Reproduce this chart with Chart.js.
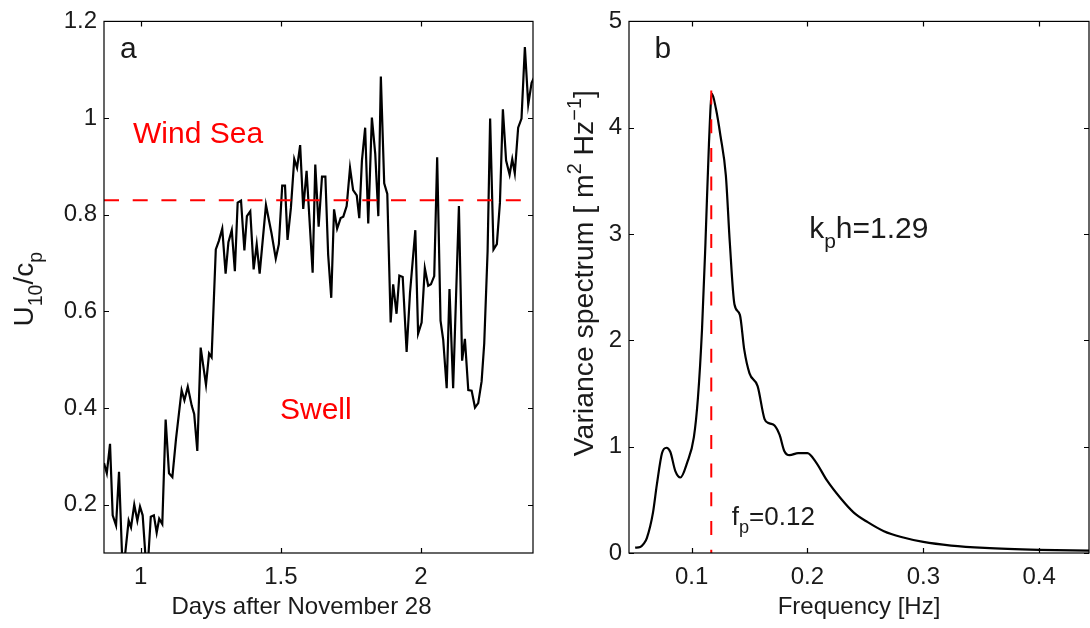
<!DOCTYPE html>
<html>
<head>
<meta charset="utf-8">
<script src="https://cdn.jsdelivr.net/npm/chart.js@4.4.1/dist/chart.umd.min.js"></script>
<style>
  html, body { margin: 0; padding: 0; background: #fff; }
  body { width: 1090px; height: 628px; position: relative; overflow: hidden; }
  .panel { position: absolute; top: 0; height: 628px; }
  #panel-a { left: 0; width: 560px; }
  #panel-b { left: 560px; width: 530px; }
</style>
</head>
<body>
<div class="panel" id="panel-a"><canvas id="chart-a"></canvas></div>
<div class="panel" id="panel-b"><canvas id="chart-b"></canvas></div>
<script>
// panel a: U10/cp time series
const days = [0.869, 0.879, 0.8905, 0.900, 0.912, 0.9226, 0.9344, 0.944, 0.957, 0.9654, 0.977, 0.988, 0.9975, 1.007, 1.018, 1.027, 1.036, 1.047, 1.057, 1.066, 1.077, 1.089, 1.101, 1.113, 1.126, 1.146, 1.156, 1.168, 1.182, 1.191, 1.202, 1.214, 1.233, 1.244, 1.253, 1.268, 1.279, 1.291, 1.303, 1.313, 1.325, 1.336, 1.346, 1.358, 1.370, 1.379, 1.391, 1.403, 1.414, 1.4245, 1.447, 1.467, 1.482, 1.493, 1.505, 1.515, 1.524, 1.536, 1.548, 1.558, 1.569, 1.580, 1.592, 1.6136, 1.623, 1.635, 1.647, 1.659, 1.669, 1.680, 1.690, 1.701, 1.7135, 1.723, 1.735, 1.747, 1.758, 1.771, 1.780, 1.7895, 1.801, 1.812, 1.825, 1.837, 1.848, 1.857, 1.869, 1.880, 1.892, 1.901, 1.913, 1.923, 1.935, 1.949, 1.961, 1.980, 1.990, 2.0025, 2.014, 2.026, 2.0357, 2.0475, 2.058, 2.070, 2.0796, 2.092, 2.102, 2.115, 2.1356, 2.147, 2.157, 2.169, 2.181, 2.193, 2.2045, 2.2166, 2.226, 2.238, 2.247, 2.259, 2.271, 2.282, 2.2925, 2.304, 2.3165, 2.326, 2.335, 2.347, 2.359, 2.371, 2.383, 2.395, 2.404];
const u10cp = [0.286, 0.265, 0.326, 0.178, 0.157, 0.268, 0.08, 0.095, 0.167, 0.153, 0.200, 0.167, 0.196, 0.178, 0.085, 0.09, 0.175, 0.178, 0.142, 0.171, 0.160, 0.376, 0.265, 0.257, 0.336, 0.437, 0.416, 0.444, 0.405, 0.387, 0.311, 0.525, 0.448, 0.513, 0.505, 0.728, 0.746, 0.771, 0.678, 0.743, 0.768, 0.683, 0.825, 0.829, 0.726, 0.797, 0.807, 0.687, 0.739, 0.678, 0.820, 0.761, 0.709, 0.739, 0.860, 0.860, 0.748, 0.814, 0.915, 0.897, 0.944, 0.812, 0.891, 0.680, 0.904, 0.775, 0.879, 0.879, 0.717, 0.628, 0.811, 0.771, 0.793, 0.796, 0.818, 0.897, 0.851, 0.840, 0.793, 0.912, 0.980, 0.782, 1.001, 0.926, 0.797, 1.086, 0.865, 0.843, 0.577, 0.656, 0.595, 0.674, 0.671, 0.516, 0.638, 0.768, 0.554, 0.577, 0.689, 0.653, 0.656, 0.673, 0.919, 0.581, 0.541, 0.441, 0.646, 0.441, 0.818, 0.498, 0.543, 0.437, 0.436, 0.401, 0.410, 0.455, 0.534, 0.725, 0.999, 0.728, 0.739, 0.825, 1.018, 0.912, 0.883, 0.915, 0.886, 0.980, 0.999, 1.147, 1.028, 1.073, 1.084];
const windSeaLimit = 0.83;
const dayRange = [0.869, 2.40];
const u10Range = [0.1, 1.2];
const dayTicks = [1, 1.5, 2];
const u10Ticks = [0.2, 0.4, 0.6, 0.8, 1, 1.2];

// panel b: variance spectrum
const freq = [0.0513, 0.0557, 0.0586, 0.0614, 0.0667, 0.070, 0.0745, 0.0783, 0.0817, 0.086, 0.0904, 0.0962, 0.102, 0.1055, 0.109, 0.112, 0.115, 0.1175, 0.121, 0.125, 0.1296, 0.133, 0.137, 0.1417, 0.1455, 0.150, 0.157, 0.163, 0.167, 0.1716, 0.176, 0.180, 0.1846, 0.192, 0.200, 0.207, 0.217, 0.229, 0.240, 0.252, 0.266, 0.281, 0.300, 0.324, 0.353, 0.400, 0.443];
const spectrum = [0.05, 0.056, 0.085, 0.14, 0.38, 0.64, 0.94, 0.99, 0.95, 0.77, 0.71, 0.85, 1.09, 1.46, 2.1, 2.92, 3.85, 4.32, 4.18, 3.92, 3.55, 2.92, 2.34, 2.24, 1.91, 1.69, 1.57, 1.26, 1.22, 1.20, 1.11, 0.96, 0.92, 0.94, 0.94, 0.86, 0.68, 0.51, 0.38, 0.29, 0.205, 0.15, 0.104, 0.07, 0.048, 0.03, 0.022];
const peakFreq = 0.117;
const peakTop = 4.35;
const freqRange = [0.046, 0.443];
const specRange = [0, 5];
const freqTicks = [0.1, 0.2, 0.3, 0.4];
const specTicks = [0, 1, 2, 3, 4, 5];

const FONT = "'Liberation Sans', Arial, Helvetica, sans-serif";
const TEXT_COLOR = "#1a1a1a";
const RED = "#ff0000";
Chart.defaults.font.family = FONT;
Chart.defaults.color = TEXT_COLOR;

// text pieces: {t, sub} / {t, sup}
const annotA = [
  { x: 0.926, y: 1.124, size: 30, color: TEXT_COLOR, parts: [{ t: "a" }] },
  { x: 0.9725, y: 0.948, size: 30, color: RED, parts: [{ t: "Wind Sea" }] },
  { x: 1.497, y: 0.378, size: 30, color: RED, parts: [{ t: "Swell" }] },
];
const annotB = [
  { x: 0.0679, y: 4.654, size: 30, color: TEXT_COLOR, parts: [{ t: "b" }] },
  { x: 0.2015, y: 2.963, size: 30, color: TEXT_COLOR, parts: [{ t: "k" }, { t: "p", sub: true }, { t: "h=1.29" }] },
  { x: 0.1347, y: 0.262, size: 26, color: TEXT_COLOR, parts: [{ t: "f" }, { t: "p", sub: true }, { t: "=0.12" }] },
];
const yTitleA = [{ t: "U" }, { t: "10", sub: true }, { t: "/c" }, { t: "p", sub: true }];
const yTitleB = [{ t: "Variance spectrum [ m" }, { t: "2", sup: true }, { t: " Hz" }, { t: "\u22121", sup: true }, { t: "]" }];

function partFont(part, size) {
  const s = part.sub || part.sup ? size * 0.7 : size;
  return `${s}px ${FONT}`;
}

function richWidth(ctx, parts, size) {
  let w = 0;
  parts.forEach((p) => {
    ctx.font = partFont(p, size);
    w += ctx.measureText(p.t).width;
  });
  return w;
}

function drawRich(ctx, parts, x, y, size) {
  let cx = x;
  ctx.textBaseline = "alphabetic";
  ctx.textAlign = "left";
  parts.forEach((p) => {
    ctx.font = partFont(p, size);
    let dy = 0;
    if (p.sub) dy = size * 0.32;
    if (p.sup) dy = -size * 0.42;
    ctx.fillText(p.t, cx, y + dy);
    cx += ctx.measureText(p.t).width;
  });
}

const matlabBox = {
  id: "matlabBox",
  afterDatasetsDraw(chart, args, opts) {
    const { ctx, chartArea: a, scales } = chart;
    const tickLen = 5;
    ctx.save();
    ctx.strokeStyle = "#000";
    ctx.lineWidth = 1.2;
    ctx.strokeRect(a.left, a.top, a.right - a.left, a.bottom - a.top);
    ctx.beginPath();
    scales.x.ticks.forEach((t) => {
      const px = Math.round(scales.x.getPixelForValue(t.value)) + 0.5;
      ctx.moveTo(px, a.bottom);
      ctx.lineTo(px, a.bottom - tickLen);
      ctx.moveTo(px, a.top);
      ctx.lineTo(px, a.top + tickLen);
    });
    scales.y.ticks.forEach((t) => {
      const py = Math.round(scales.y.getPixelForValue(t.value)) + 0.5;
      ctx.moveTo(a.left, py);
      ctx.lineTo(a.left + tickLen, py);
      ctx.moveTo(a.right, py);
      ctx.lineTo(a.right - tickLen, py);
    });
    ctx.stroke();

    opts.annotations.forEach((an) => {
      ctx.fillStyle = an.color;
      drawRich(ctx, an.parts, scales.x.getPixelForValue(an.x), scales.y.getPixelForValue(an.y), an.size);
    });

    // x title, centred under the axes (with a small offset like the original)
    ctx.fillStyle = TEXT_COLOR;
    ctx.font = `24px ${FONT}`;
    ctx.textAlign = "center";
    ctx.textBaseline = "middle";
    ctx.fillText(opts.xTitle, (a.left + a.right) / 2 + opts.xTitleShift, 607);

    // rotated y title with sub/superscripts
    const size = opts.yTitleSize;
    const w = richWidth(ctx, opts.yTitle, size);
    ctx.translate(opts.yTitleX, (a.top + a.bottom) / 2 + opts.yTitleShift);
    ctx.rotate(-Math.PI / 2);
    drawRich(ctx, opts.yTitle, -w / 2, 0, size);
    ctx.restore();
  },
};

const fmt = (v) => String(Number(v.toFixed(3)));

function axis(range, ticks, opts) {
  return {
    type: "linear",
    min: range[0],
    max: range[1],
    grid: { display: false, drawTicks: false },
    border: { display: false },
    afterBuildTicks: (scale) => {
      scale.ticks = ticks.map((v) => ({ value: v }));
    },
    ticks: {
      callback: fmt,
      font: { size: 24 },
      color: TEXT_COLOR,
      padding: opts.padding,
    },
    afterFit: opts.afterFit,
  };
}

function makeChart(id, cfg) {
  return new Chart(document.getElementById(id), {
    type: "line",
    data: { datasets: cfg.datasets },
    options: {
      responsive: true,
      maintainAspectRatio: false,
      animation: false,
      devicePixelRatio: 1,
      layout: { padding: { top: 18, right: cfg.padRight, bottom: 0, left: 0 } },
      plugins: {
        legend: { display: false },
        tooltip: { enabled: false },
        matlabBox: cfg.box,
      },
      elements: { point: { radius: 0 } },
      scales: {
        x: axis(cfg.xRange, cfg.xTicks, {
          padding: 10,
          afterFit: (s) => { s.height = 75; },
        }),
        y: axis(cfg.yRange, cfg.yTicks, {
          padding: 7,
          afterFit: (s) => { s.width = cfg.yWidth; },
        }),
      },
    },
    plugins: [matlabBox],
  });
}

makeChart("chart-a", {
  datasets: [
    {
      data: dayRange.map((d) => ({ x: d, y: windSeaLimit })),
      borderColor: RED,
      borderWidth: 2,
      borderDash: [15, 13.7],
      order: 1,
      clip: 0,
    },
    {
      data: days.map((d, i) => ({ x: d, y: u10cp[i] })),
      borderColor: "#000",
      borderWidth: 2.2,
      tension: 0,
      order: 2,
      clip: 0,
    },
  ],
  xRange: dayRange,
  yRange: u10Range,
  xTicks: dayTicks,
  yTicks: u10Ticks,
  yWidth: 104,
  padRight: 27,
  box: {
    annotations: annotA,
    xTitle: "Days after November 28",
    xTitleShift: -17,
    yTitle: yTitleA,
    yTitleSize: 28,
    yTitleX: 33,
    yTitleShift: 2,
  },
});

makeChart("chart-b", {
  datasets: [
    {
      data: [{ x: peakFreq, y: peakTop }, { x: peakFreq, y: 0 }],
      borderColor: RED,
      borderWidth: 2,
      borderDash: [14, 14.7],
      order: 1,
      clip: 0,
    },
    {
      data: freq.map((f, i) => ({ x: f, y: spectrum[i] })),
      borderColor: "#000",
      borderWidth: 2.2,
      cubicInterpolationMode: "monotone",
      order: 2,
      clip: 0,
    },
  ],
  xRange: freqRange,
  yRange: specRange,
  xTicks: freqTicks,
  yTicks: specTicks,
  yWidth: 69,
  padRight: 1,
  box: {
    annotations: annotB,
    xTitle: "Frequency [Hz]",
    xTitleShift: 0,
    yTitle: yTitleB,
    yTitleSize: 28.4,
    yTitleX: 33,
    yTitleShift: -14,
  },
});
</script>
</body>
</html>
